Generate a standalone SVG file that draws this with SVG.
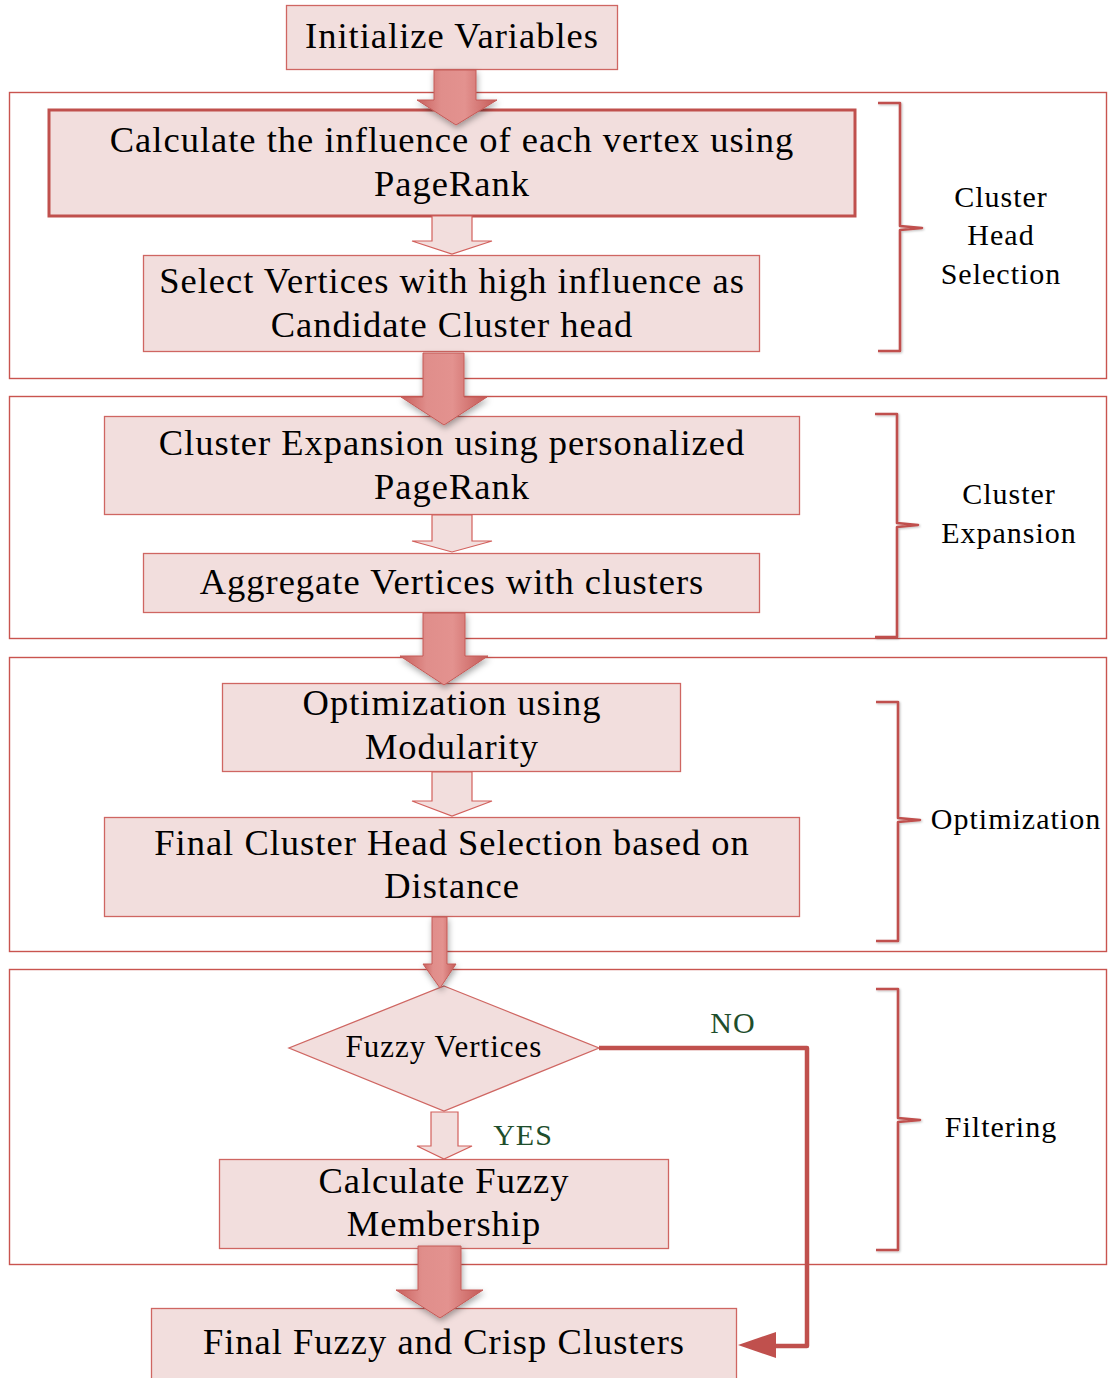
<svg xmlns="http://www.w3.org/2000/svg" width="1108" height="1378" viewBox="0 0 1108 1378">
  <defs>
    <style>
      .stage { fill: #ffffff; stroke: #c9544f; stroke-width: 1.4; }
      .node { fill: #f2dedd; stroke: #cf6662; stroke-width: 1.3; }
      .node-strong { fill: #f2dedd; stroke: #c0504d; stroke-width: 3; }
      .hollow { fill: #f2dedd; stroke: #d2605c; stroke-width: 1.2; }
      .solid { fill: url(#arrowShade); stroke: #c45a57; stroke-width: 1; filter: url(#soft); }
      .brace { fill: none; stroke: #c0504d; stroke-width: 2.6; stroke-linejoin: round; filter: url(#braceShadow); }
      .main { font-family: "Liberation Serif", "Times New Roman", serif; font-size: 36.5px; letter-spacing: 1px; fill: #000; text-anchor: middle; }
      .side { font-family: "Liberation Serif", "Times New Roman", serif; font-size: 30px; letter-spacing: 1px; fill: #000; text-anchor: middle; }
      .branch { font-family: "Liberation Serif", "Times New Roman", serif; font-size: 30px; letter-spacing: 1px; fill: #1e4e2c; text-anchor: middle; }
      .flow { fill: none; stroke: #c0504d; stroke-width: 4.5; stroke-linejoin: round; }
    </style>
    <linearGradient id="arrowShade" x1="0" y1="0" x2="1" y2="0">
      <stop offset="0" stop-color="#c8605d"/>
      <stop offset="0.3" stop-color="#e08e8b"/>
      <stop offset="0.6" stop-color="#e3928f"/>
      <stop offset="1" stop-color="#c45a57"/>
    </linearGradient>
    <filter id="soft" x="-30%" y="-30%" width="160%" height="160%">
      <feDropShadow dx="1" dy="3" stdDeviation="3" flood-color="#000" flood-opacity="0.35"/>
    </filter>
    <filter id="braceShadow" x="-30%" y="-10%" width="160%" height="120%">
      <feDropShadow dx="1" dy="1" stdDeviation="1" flood-color="#000" flood-opacity="0.25"/>
    </filter>
  </defs>

  <!-- stage frames -->
  <g id="stages">
    <rect id="stage-head" class="stage" x="9.5" y="92.5" width="1097" height="286"/>
    <rect id="stage-expansion" class="stage" x="9.5" y="396.5" width="1097" height="242"/>
    <rect id="stage-optimization" class="stage" x="9.5" y="657.5" width="1097" height="294"/>
    <rect id="stage-filtering" class="stage" x="9.5" y="969.5" width="1097" height="295"/>
  </g>

  <!-- stage braces and captions -->
  <g id="brace-head">
    <path class="brace" d="M878,103 H900 V226 L922,228 L900,230 V351 H878"/>
    <text class="side" x="1001" y="207">Cluster</text>
    <text class="side" x="1001" y="245">Head</text>
    <text class="side" x="1001" y="284">Selection</text>
  </g>
  <g id="brace-expansion">
    <path class="brace" d="M875,414 H897 V523 L918,525 L897,527 V637 H875"/>
    <text class="side" x="1009" y="504">Cluster</text>
    <text class="side" x="1009" y="543">Expansion</text>
  </g>
  <g id="brace-optimization">
    <path class="brace" d="M876,702 H898 V818 L920,820 L898,822 V941 H876"/>
    <text class="side" x="1016" y="829">Optimization</text>
  </g>
  <g id="brace-filtering">
    <path class="brace" d="M876,989 H898 V1118 L920,1120 L898,1122 V1250 H876"/>
    <text class="side" x="1001" y="1137">Filtering</text>
  </g>

  <!-- process nodes -->
  <g id="n-init">
    <rect class="node" x="286.5" y="5.5" width="331" height="64"/>
    <text class="main" x="452" y="48">Initialize Variables</text>
  </g>
  <g id="n-influence">
    <rect class="node-strong" x="49" y="110" width="806" height="106"/>
    <text class="main" x="452" y="152">Calculate the influence of each vertex using</text>
    <text class="main" x="452" y="196">PageRank</text>
  </g>
  <g id="n-select">
    <rect class="node" x="143.5" y="255.5" width="616" height="96"/>
    <text class="main" x="452" y="293">Select Vertices with high influence as</text>
    <text class="main" x="452" y="337">Candidate Cluster head</text>
  </g>
  <g id="n-expansion">
    <rect class="node" x="104.5" y="416.5" width="695" height="98"/>
    <text class="main" x="452" y="455">Cluster Expansion using personalized</text>
    <text class="main" x="452" y="499">PageRank</text>
  </g>
  <g id="n-aggregate">
    <rect class="node" x="143.5" y="553.5" width="616" height="59"/>
    <text class="main" x="452" y="594">Aggregate Vertices with clusters</text>
  </g>
  <g id="n-modularity">
    <rect class="node" x="222.5" y="683.5" width="458" height="88"/>
    <text class="main" x="452" y="715">Optimization using</text>
    <text class="main" x="452" y="759">Modularity</text>
  </g>
  <g id="n-final-head">
    <rect class="node" x="104.5" y="817.5" width="695" height="99"/>
    <text class="main" x="452" y="855">Final Cluster Head Selection based on</text>
    <text class="main" x="452" y="898">Distance</text>
  </g>
  <g id="n-fuzzy-test">
    <polygon class="node" points="444,986 599,1048 444,1111 289,1048"/>
    <text class="main" x="444" y="1057" style="font-size:31px">Fuzzy Vertices</text>
  </g>
  <g id="n-membership">
    <rect class="node" x="219.5" y="1159.5" width="449" height="89"/>
    <text class="main" x="444" y="1193">Calculate Fuzzy</text>
    <text class="main" x="444" y="1236">Membership</text>
  </g>
  <g id="n-result">
    <rect class="node" x="151.5" y="1308.5" width="585" height="80"/>
    <text class="main" x="444" y="1354">Final Fuzzy and Crisp Clusters</text>
  </g>

  <!-- connectors -->
  <g id="connectors">
    <!-- block arrows between stages -->
    <path class="solid" d="M434,70 H476 V100 H497 L456,125 L417,100 H434 Z"/>
    <path class="solid" d="M423,353 H464 V397 H487 L444,425 L401,397 H423 Z"/>
    <path class="solid" d="M423,613 H465 V656 H488 L444,685 L400,656 H423 Z"/>
    <path class="solid" d="M432,917 H447 V964 H456 L440,988 L423,964 H432 Z"/>
    <path class="solid" d="M418,1246 H461 V1290 H483 L440,1318 L396,1290 H418 Z"/>

    <!-- outlined arrows inside stages -->
    <path class="hollow" d="M432,216 H472 V241 H492 L452,254 L412,241 H432 Z"/>
    <path class="hollow" d="M432,515 H472 V541 H492 L452,552 L412,541 H432 Z"/>
    <path class="hollow" d="M432,772 H472 V801 H492 L452,816 L412,801 H432 Z"/>
    <path class="hollow" d="M431,1112 H458 V1146 H472 L444,1159 L417,1146 H431 Z"/>

    <!-- NO branch -->
    <polyline class="flow" points="599,1048 807,1048 807,1346 773,1346"/>
    <polygon points="738,1345 776,1332 776,1358" fill="#c0504d"/>
    <text class="branch" x="733" y="1033">NO</text>
    <text class="branch" x="523" y="1145">YES</text>
  </g>
</svg>
